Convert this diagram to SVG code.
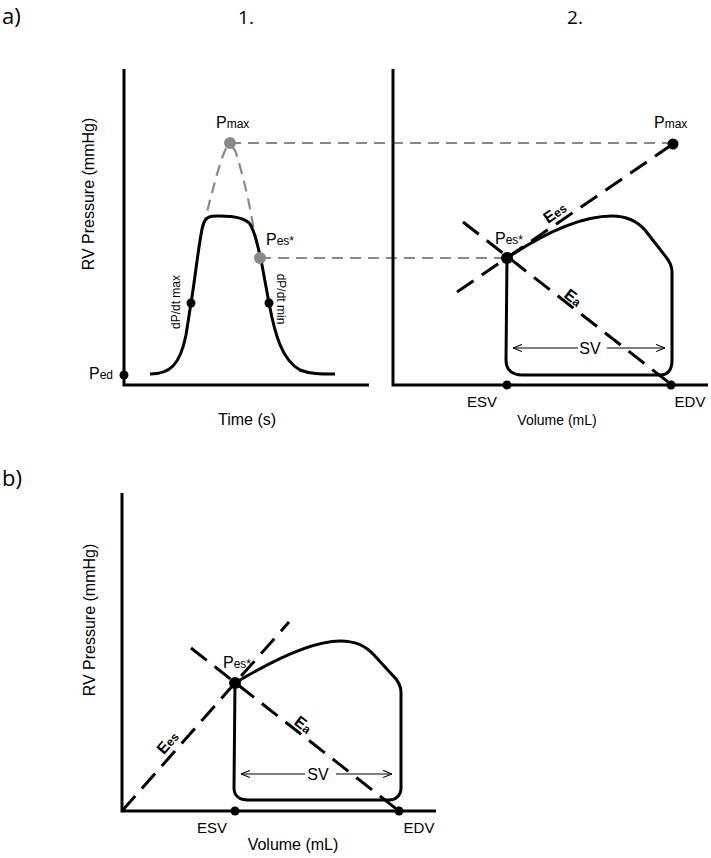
<svg xmlns="http://www.w3.org/2000/svg" width="711" height="858" viewBox="0 0 711 858">
<style>
text{font-family:"Liberation Sans",Arimo,Arial,sans-serif;fill:#000}
.lbl{font-size:16px}
.sub{font-size:12px}
.panel{font-family:"Open Sans","Liberation Sans",sans-serif;font-size:22px}
.num{font-family:"Open Sans","Liberation Sans",sans-serif;font-size:19px}
.axis{stroke:#000;stroke-width:3;fill:none}
.curve{stroke:#000;stroke-width:3;fill:none;stroke-linejoin:round}
.dash{stroke:#000;stroke-width:3;fill:none;stroke-dasharray:20 10}
.gdash{stroke:#888;stroke-width:2.2;fill:none;stroke-dasharray:11 7}
.thin{stroke:#000;stroke-width:1.2;fill:none}
.dot{fill:#000}
.gdot{fill:#8a8a8a}
.bold{font-weight:bold}
</style>
<defs>
<marker id="ah" viewBox="0 0 10 10" refX="10" refY="5" markerWidth="9" markerHeight="9" markerUnits="userSpaceOnUse" orient="auto-start-reverse">
<path d="M0,1 L10,5 L0,9" fill="none" stroke="#000" stroke-width="1.2"/>
</marker>
</defs>

<text class="panel" x="2" y="24">a)</text>
<text class="num" x="246" y="24" text-anchor="middle">1.</text>
<text class="num" x="575" y="24" text-anchor="middle">2.</text>
<text class="panel" x="2" y="486">b)</text>

<g id="connectors">
<path class="gdash" d="M230,143 L673,143"/>
<path class="gdash" d="M260,258 L507,258"/>
<path class="gdash" d="M203,228 C210,200 218,168 224,153 C227,144 233,144 236,153 C242,172 249,200 253,225 C256,238 258,248 260,258"/>
<path class="dash" d="M457,292 L673,144"/>
<path class="dash" d="M463,222 L672,385"/>
<path class="dash" d="M122,811 L289,622"/>
<path class="dash" d="M191,648 L399,811"/>
</g>

<g id="panel-a1">
<path class="axis" d="M124,69 L124,385 L369,385"/>
<path class="curve" d="M150,374 C170,374 180,365 186,335 L191,303 C195,280 199,240 203,225 C206,215 212,216 220,216 C235,216 245,218 250,224 C255,232 258,245 262,265 L269,303 C275,335 282,360 300,370 C310,374 320,374 335,374"/>
<circle class="dot" cx="124" cy="375" r="4.5"/>
<circle class="dot" cx="191" cy="303" r="4.5"/>
<circle class="dot" cx="269" cy="303" r="4.5"/>
<circle class="gdot" cx="230" cy="143" r="6"/>
<circle class="gdot" cx="260" cy="258" r="6"/>
<text x="89" y="379"><tspan class="lbl">P</tspan><tspan class="sub">ed</tspan></text>
<text x="216" y="128"><tspan class="lbl">P</tspan><tspan class="sub">max</tspan></text>
<text x="266" y="245"><tspan class="lbl">P</tspan><tspan class="sub">es*</tspan></text>
<text class="sub" transform="translate(180,302) rotate(-90)" text-anchor="middle">dP/dt max</text>
<text class="sub" transform="translate(277,299) rotate(90)" text-anchor="middle">dP/dt min</text>
<text class="lbl" transform="translate(94,194) rotate(-90)" text-anchor="middle">RV Pressure (mmHg)</text>
<text class="lbl" x="247" y="425" text-anchor="middle">Time (s)</text>
</g>

<g id="panel-a2">
<path class="axis" d="M393,69 L393,385 L708,385"/>
<path class="curve" d="M507,258 L506,360 C506,370 512,375 522,375 L660,375 C668,375 672,370 672,360 L672,272 C672,266 670,262 666,257 L645,230 C636,220 625,216 612,216 C580,216 540,236 507,258 Z"/>
<line class="thin" x1="578" y1="348" x2="513" y2="348" marker-end="url(#ah)"/>
<line class="thin" x1="607" y1="348" x2="665" y2="348" marker-end="url(#ah)"/>
<text class="lbl" x="590" y="354" text-anchor="middle">SV</text>
<circle class="dot" cx="507" cy="258" r="6"/>
<circle class="dot" cx="673" cy="144" r="5.5"/>
<circle class="dot" cx="507" cy="385" r="4.5"/>
<circle class="dot" cx="671" cy="385" r="4.5"/>
<text x="654" y="128"><tspan class="lbl">P</tspan><tspan class="sub">max</tspan></text>
<text x="495" y="244"><tspan class="lbl">P</tspan><tspan class="sub">es*</tspan></text>
<text class="bold" transform="translate(555,213) rotate(-34.4)" text-anchor="middle" y="5"><tspan class="lbl">E</tspan><tspan class="sub">es</tspan></text>
<text class="bold" transform="translate(573,298) rotate(38)" text-anchor="middle" y="5"><tspan class="lbl">E</tspan><tspan class="sub">a</tspan></text>
<text class="lbl" x="482" y="407" text-anchor="middle" style="font-size:15px">ESV</text>
<text class="lbl" x="690" y="407" text-anchor="middle" style="font-size:15px">EDV</text>
<text class="lbl" x="557" y="425" text-anchor="middle" style="font-size:14px">Volume (mL)</text>
</g>

<g id="panel-b">
<path class="axis" d="M122,493 L122,811 L436,811"/>
<path class="curve" d="M235,683 L234,788 C234,796 240,800 248,800 L389,800 C396,800 401,795 401,788 L401,692 C401,686 399,683 396,679 L374,655 C365,645 355,641 340,641 C310,641 265,665 235,683 Z"/>
<line class="thin" x1="305" y1="774" x2="241" y2="774" marker-end="url(#ah)"/>
<line class="thin" x1="336" y1="774" x2="392" y2="774" marker-end="url(#ah)"/>
<text class="lbl" x="318" y="780" text-anchor="middle">SV</text>
<circle class="dot" cx="235" cy="683" r="6"/>
<circle class="dot" cx="235" cy="811" r="4.5"/>
<circle class="dot" cx="399" cy="811" r="4.5"/>
<text x="223" y="668"><tspan class="lbl">P</tspan><tspan class="sub">es*</tspan></text>
<text class="bold" transform="translate(168,743) rotate(-48.5)" text-anchor="middle" y="5"><tspan class="lbl">E</tspan><tspan class="sub">es</tspan></text>
<text class="bold" transform="translate(303,725) rotate(38)" text-anchor="middle" y="5"><tspan class="lbl">E</tspan><tspan class="sub">a</tspan></text>
<text class="lbl" transform="translate(95,620) rotate(-90)" text-anchor="middle">RV Pressure (mmHg)</text>
<text class="lbl" x="212" y="833" text-anchor="middle" style="font-size:15px">ESV</text>
<text class="lbl" x="419" y="833" text-anchor="middle" style="font-size:15px">EDV</text>
<text class="lbl" x="293" y="850" text-anchor="middle">Volume (mL)</text>
</g>
</svg>
